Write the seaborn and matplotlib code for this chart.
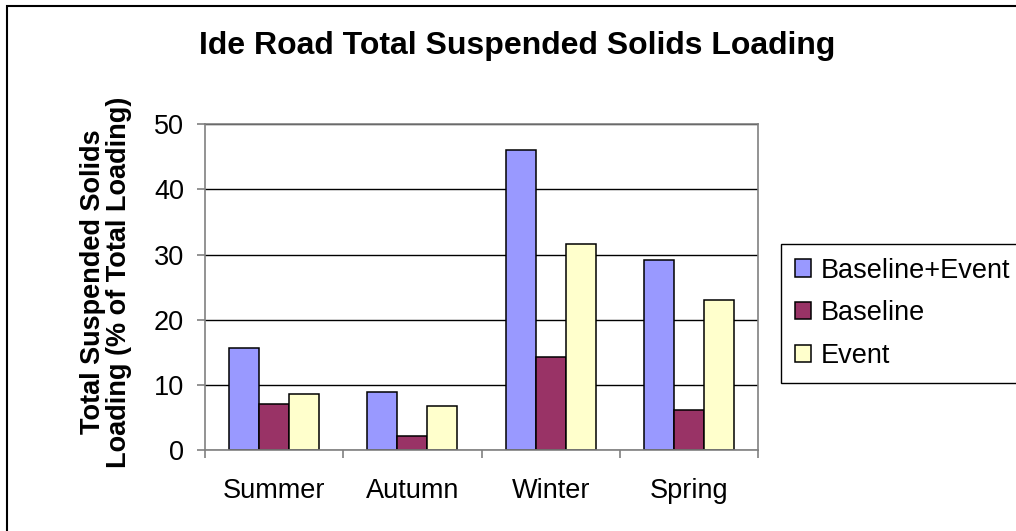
import matplotlib
matplotlib.use("Agg")
import matplotlib.pyplot as plt
import seaborn as sns
import pandas as pd
from matplotlib.patches import Rectangle, Patch
from matplotlib.ticker import FixedLocator

categories = ["Summer", "Autumn", "Winter", "Spring"]
series_names = ["Baseline+Event", "Baseline", "Event"]
baseline_event = [15.6, 8.9, 46.0, 29.1]
baseline = [7.1, 2.1, 14.3, 6.1]
event = [8.6, 6.8, 31.6, 23.0]
colors = ["#9999FF", "#993366", "#FFFFCC"]
y_ticks = [0, 10, 20, 30, 40, 50]

rows = []
for name, vals in zip(series_names, [baseline_event, baseline, event]):
    for c, v in zip(categories, vals):
        rows.append({"Season": c, "Series": name, "Value": v})
df = pd.DataFrame(rows)

sns.set_theme(style="white")
plt.rcParams["font.family"] = ["Liberation Sans", "DejaVu Sans"]
plt.rcParams["text.color"] = "black"
plt.rcParams["xtick.color"] = "black"
plt.rcParams["ytick.color"] = "black"

FS = 19.5

fig = plt.figure(figsize=(10.16, 5.31), dpi=100)
ax = fig.add_axes([205/1016, 1-450/531, (758-205)/1016, (450-124.3)/531])

sns.barplot(data=df, x="Season", y="Value", hue="Series", order=categories,
            hue_order=series_names, palette=colors, width=0.65, gap=0,
            edgecolor="black", linewidth=1.1, saturation=1, ax=ax, legend=False,
            errorbar=None)

ax.set_xlim(-0.5, 3.5)
ax.set_ylim(0, 50)
ax.set_yticks(y_ticks)
ax.set_yticklabels([str(t) for t in y_ticks], fontsize=FS)
ax.yaxis.grid(True, color="black", linewidth=1)
ax.set_axisbelow(True)
ax.set_xlabel("")
ax.set_ylabel("")
for s in ax.spines.values():
    s.set_color("#808080")
    s.set_linewidth(1.2)
    s.set_visible(True)
ax.tick_params(axis="y", which="major", length=6, width=1.2, color="#808080",
               left=True, pad=9, labelcolor="black")
ax.tick_params(axis="x", which="major", length=0, pad=20, labelsize=FS,
               labelcolor="black")
ax.xaxis.set_minor_locator(FixedLocator([-0.5, 0.5, 1.5, 2.5, 3.5]))
ax.tick_params(axis="x", which="minor", length=6, width=1.2, color="#808080",
               bottom=True)

fig.text(517/1016, 1-46/531, "Ide Road Total Suspended Solids Loading",
         ha="center", va="center", fontsize=23, fontweight="bold", color="black")
fig.text(106/1016, 1-282/531, "Total Suspended Solids\nLoading (% of Total Loading)",
         ha="center", va="center", rotation=90, fontsize=FS, fontweight="bold",
         multialignment="center", linespacing=1.0, color="black")

handles = [Patch(facecolor=c, edgecolor="black", linewidth=1.1) for c in colors]
leg = fig.legend(handles, series_names, loc="upper left",
                 bbox_to_anchor=(781/1016, 1-244/531), fontsize=FS,
                 frameon=True, fancybox=False, framealpha=1,
                 handlelength=0.6, handleheight=0.6, handletextpad=0.35,
                 labelspacing=0.62, borderpad=0.5, borderaxespad=0)
leg.get_frame().set_edgecolor("black")
leg.get_frame().set_linewidth(1.0)
for t in leg.get_texts():
    t.set_color("black")

fig.patches.append(Rectangle((7/1016, -0.05), 1.1, 1-6/531+0.05,
                             transform=fig.transFigure, fill=False,
                             edgecolor="black", linewidth=1.5))

fig.savefig("out.png", dpi=100)
